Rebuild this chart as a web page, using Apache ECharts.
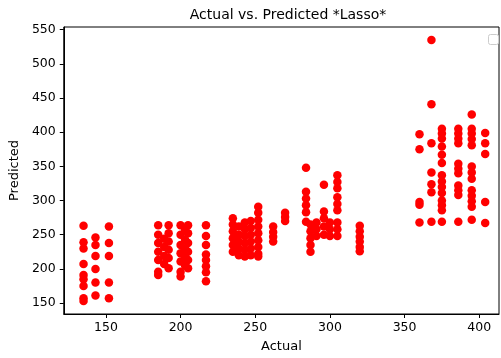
<!DOCTYPE html>
<html>
<head>
<meta charset="utf-8">
<script src="https://cdn.jsdelivr.net/npm/echarts@6/dist/echarts.min.js"></script>
<style>
  html, body { margin: 0; padding: 0; background: #fff; }
  #chart { width: 501px; height: 358px; }
</style>
</head>
<body>
<div id="chart"></div>
<script>
var actualLevels = [135, 143, 152, 185, 189, 192, 200, 203, 205, 217, 235, 239, 243, 247, 252, 262, 270,
  284, 287, 291, 296, 300, 305, 320, 360, 368, 375, 386, 395, 404];
var predictedByLevel = [
  [263, 239, 230, 207, 191, 185, 175, 157, 153],
  [246, 235, 219, 200, 180, 161],
  [262, 238, 219, 180, 157],
  [264, 250, 238, 225, 213, 196, 191],
  [244, 232, 219, 207],
  [264, 252, 240, 228, 216, 201],
  [264, 250, 235, 223, 211, 196, 189],
  [257, 243, 230, 217, 205],
  [264, 252, 238, 225, 213, 201],
  [264, 248, 235, 221, 213, 204, 195, 182],
  [274, 265, 255, 245, 235, 225],
  [262, 250, 240, 230, 220],
  [268, 258, 248, 238, 228, 218],
  [270, 260, 250, 240, 230, 220],
  [291, 282, 272, 262, 252, 242, 232, 222, 218],
  [262, 254, 247, 240],
  [282, 276, 270],
  [348, 313, 303, 293, 283, 269],
  [265, 255, 245, 235, 225],
  [268, 258, 248],
  [323, 284, 274, 262, 250],
  [268, 258, 248],
  [337, 327, 318, 305, 295, 286, 268, 258, 248],
  [263, 255, 247, 240, 232, 226],
  [397, 375, 298, 294, 268],
  [535, 441, 384, 341, 324, 312, 269],
  [405, 398, 391, 379, 367, 355, 337, 328, 320, 311, 300, 293, 286, 269],
  [405, 398, 391, 384, 354, 347, 340, 322, 315, 308, 269],
  [426, 405, 398, 390, 381, 350, 341, 332, 315, 307, 299, 291, 272],
  [399, 384, 368, 298, 267]
];
var xTicks = [150, 200, 250, 300, 350, 400];
var yTicks = [150, 200, 250, 300, 350, 400, 450, 500, 550];

var points = [];
actualLevels.forEach(function (a, i) {
  predictedByLevel[i].forEach(function (p) { points.push([a, p]); });
});

var font = 'DejaVu Sans';
var chart = echarts.init(document.getElementById('chart'));
chart.setOption({
  animation: false,
  backgroundColor: '#fff',
  title: {
    text: 'Actual vs. Predicted *Lasso*',
    left: 283, top: 3, textAlign: 'center',
    textStyle: { fontFamily: font, fontSize: 14, fontWeight: 'normal', color: '#000' }
  },
  grid: { left: 63, top: 27, right: 2, bottom: 44, show: true, borderColor: '#000', borderWidth: 1 },
  xAxis: {
    type: 'value', min: 121.75, max: 413.25,
    name: 'Actual', nameLocation: 'middle', nameGap: 26,
    nameTextStyle: { fontFamily: font, fontSize: 13, color: '#000' },
    splitLine: { show: false },
    axisLine: { show: true, lineStyle: { color: '#000' } },
    axisTick: { show: true, length: 4, customValues: xTicks, lineStyle: { color: '#000' } },
    axisLabel: { customValues: xTicks, margin: 7, fontFamily: font, fontSize: 12.5, color: '#000' }
  },
  yAxis: {
    type: 'value', min: 134, max: 554,
    name: 'Predicted', nameLocation: 'middle', nameGap: 41, nameRotate: 90,
    nameTextStyle: { fontFamily: font, fontSize: 13, color: '#000' },
    splitLine: { show: false },
    axisLine: { show: true, lineStyle: { color: '#000' } },
    axisTick: { show: true, length: 4, customValues: yTicks, lineStyle: { color: '#000' } },
    axisLabel: { customValues: yTicks, margin: 8, fontFamily: font, fontSize: 12.5, color: '#000' }
  },
  graphic: [{
    type: 'rect', left: 488, top: 34,
    shape: { width: 10, height: 10, r: 2 },
    style: { fill: '#fff', stroke: '#ccc', lineWidth: 1 }
  }],
  series: [{
    type: 'scatter',
    data: points,
    symbol: 'circle',
    symbolSize: 8.5,
    itemStyle: { color: '#ff0000', opacity: 1 }
  }]
});
</script>
</body>
</html>
